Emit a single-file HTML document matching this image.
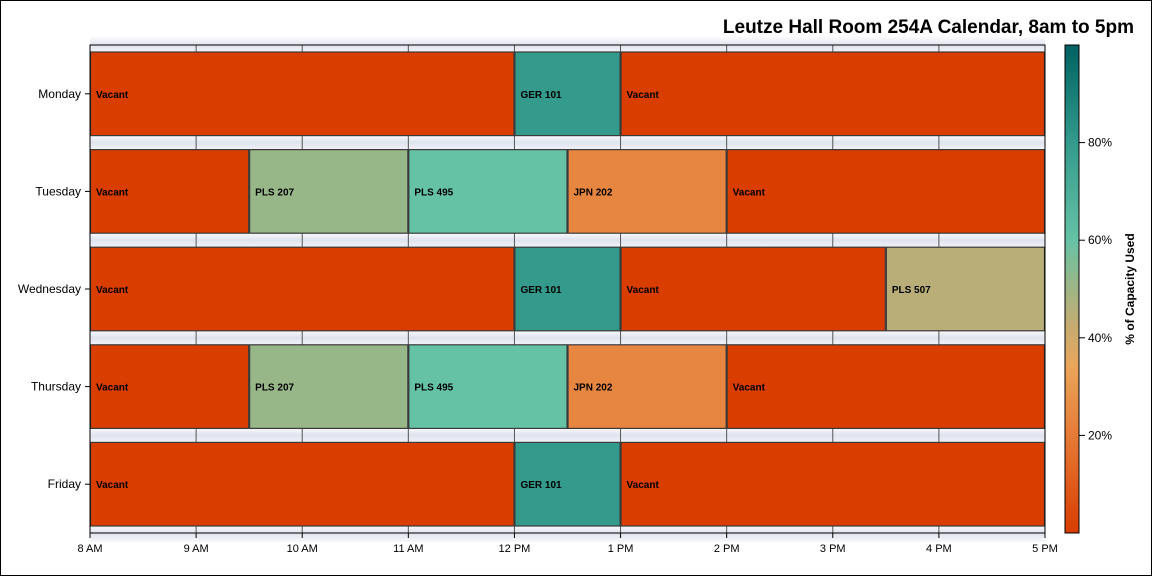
<!DOCTYPE html>
<html><head><meta charset="utf-8"><style>
body{margin:0;background:#fff}
svg{display:block;font-family:"Liberation Sans",Arial,sans-serif}
</style></head><body>
<svg id="c" width="1152" height="576">
<defs>
<linearGradient id="cb" x1="0" y1="1" x2="0" y2="0">
<stop offset="0" stop-color="#d93d00"/>
<stop offset="0.2" stop-color="#e67a36"/>
<stop offset="0.34" stop-color="#eaa55a"/>
<stop offset="0.45" stop-color="#b9ae78"/>
<stop offset="0.52" stop-color="#93b88b"/>
<stop offset="0.6" stop-color="#66c2a5"/>
<stop offset="0.8" stop-color="#339a8c"/>
<stop offset="1" stop-color="#006262"/>
</linearGradient>
<linearGradient id="gap" x1="0" y1="0" x2="0" y2="1">
<stop offset="0" stop-color="#ffffff"/><stop offset="0.5" stop-color="#dfe3ee"/><stop offset="1" stop-color="#f7f8fb"/>
</linearGradient>
</defs>
<rect x="0.5" y="0.5" width="1151" height="575" fill="#fff" stroke="#000"/>
<text x="1134" y="33" text-anchor="end" font-size="19" font-weight="bold">Leutze Hall Room 254A Calendar, 8am to 5pm</text>
<g id="plot"></g>
</svg>
<script>
const days=["Monday","Tuesday","Wednesday","Thursday","Friday"];
const xTicks=["8 AM","9 AM","10 AM","11 AM","12 PM","1 PM","2 PM","3 PM","4 PM","5 PM"];
const evDay=[0,0,0,1,1,1,1,1,2,2,2,2,3,3,3,3,3,4,4,4];
const evStart=[8,12,13,8,9.5,11,12.5,14,8,12,13,15.5,8,9.5,11,12.5,14,8,12,13];
const evEnd=[12,13,17,9.5,11,12.5,14,17,12,13,15.5,17,9.5,11,12.5,14,17,12,13,17];
const evLabel=["Vacant","GER 101","Vacant","Vacant","PLS 207","PLS 495","JPN 202","Vacant","Vacant","GER 101","Vacant","PLS 507","Vacant","PLS 207","PLS 495","JPN 202","Vacant","Vacant","GER 101","Vacant"];
const evCap=[0,80,0,0,51,60,24,0,0,80,0,45,0,51,60,24,0,0,80,0];
const cbTicks=[20,40,60,80];
const L=90,R=1045,T=45,B=533;
const xs=h=>L+(h-8)/9*(R-L);
const band=(B-T)/days.length;
const cv=p=>B-p/100*(B-T);
const stops=[[0,"#d93d00"],[20,"#e67a36"],[34,"#eaa55a"],[45,"#b9ae78"],[52,"#93b88b"],[60,"#66c2a5"],[80,"#339a8c"],[100,"#006262"]];
function col(v){for(let i=1;i<stops.length;i++){if(v<=stops[i][0]){const a=stops[i-1],b=stops[i],t=(v-a[0])/(b[0]-a[0]);const h=s=>[1,3,5].map(k=>parseInt(s.substr(k,2),16));const A=h(a[1]),Bc=h(b[1]);return "rgb("+A.map((x,j)=>Math.round(x+(Bc[j]-x)*t)).join(",")+")";}}return stops[stops.length-1][1];}
const NS="http://www.w3.org/2000/svg",g=document.getElementById("plot");
function el(t,a,p){const e=document.createElementNS(NS,t);for(const k in a)e.setAttribute(k,a[k]);(p||g).appendChild(e);return e;}
let e=el("rect",{x:L,y:T,width:R-L,height:B-T,fill:"url(#gap)"});

for(let i=0;i<=days.length;i++){e=el("rect",{x:L,y:T+i*band-9,width:R-L,height:18,fill:"url(#gap)"});
}
xTicks.forEach((t,i)=>{const x=xs(8+i);
e=el("line",{x1:x,x2:x,y1:T,y2:B,stroke:"#555","stroke-width":1});

e=el("line",{x1:x,x2:x,y1:B,y2:B+5,stroke:"#000"});

e=el("text",{x:x,y:B+19,"text-anchor":"middle","font-size":11});e.textContent=t;
});
evDay.forEach((d,i)=>{const x0=xs(evStart[i]),x1=xs(evEnd[i]),y0=T+d*band+7,h=band-14;
e=el("rect",{x:x0+0.5,y:y0,width:x1-x0-1,height:h,fill:col(evCap[i]),stroke:"#3a3a3a","stroke-width":1.2});

e=el("text",{x:x0+6,y:y0+h/2+4,"font-size":10,"font-weight":"bold"});e.textContent=evLabel[i];
});
days.forEach((d,i)=>{const y=T+(i+0.5)*band;
e=el("line",{x1:L-5,x2:L,y1:y,y2:y,stroke:"#000"});

e=el("text",{x:L-9,y:y+4,"text-anchor":"end","font-size":12});e.textContent=d;
});
e=el("rect",{x:L,y:T,width:R-L,height:B-T,fill:"none",stroke:"#000"});

e=el("rect",{x:1065,y:T,width:14,height:B-T,fill:"url(#cb)",stroke:"#000"});

cbTicks.forEach(t=>{const y=cv(t);
e=el("line",{x1:1079,x2:1085,y1:y,y2:y,stroke:"#000"});

e=el("text",{x:1088,y:y+4,"font-size":12});e.textContent=t+"%";
});
e=el("text",{x:0,y:0,"font-size":12,"font-weight":"bold","text-anchor":"middle",transform:"translate(1134,289) rotate(-90)"});e.textContent="% of Capacity Used";

</script>
</body></html>
